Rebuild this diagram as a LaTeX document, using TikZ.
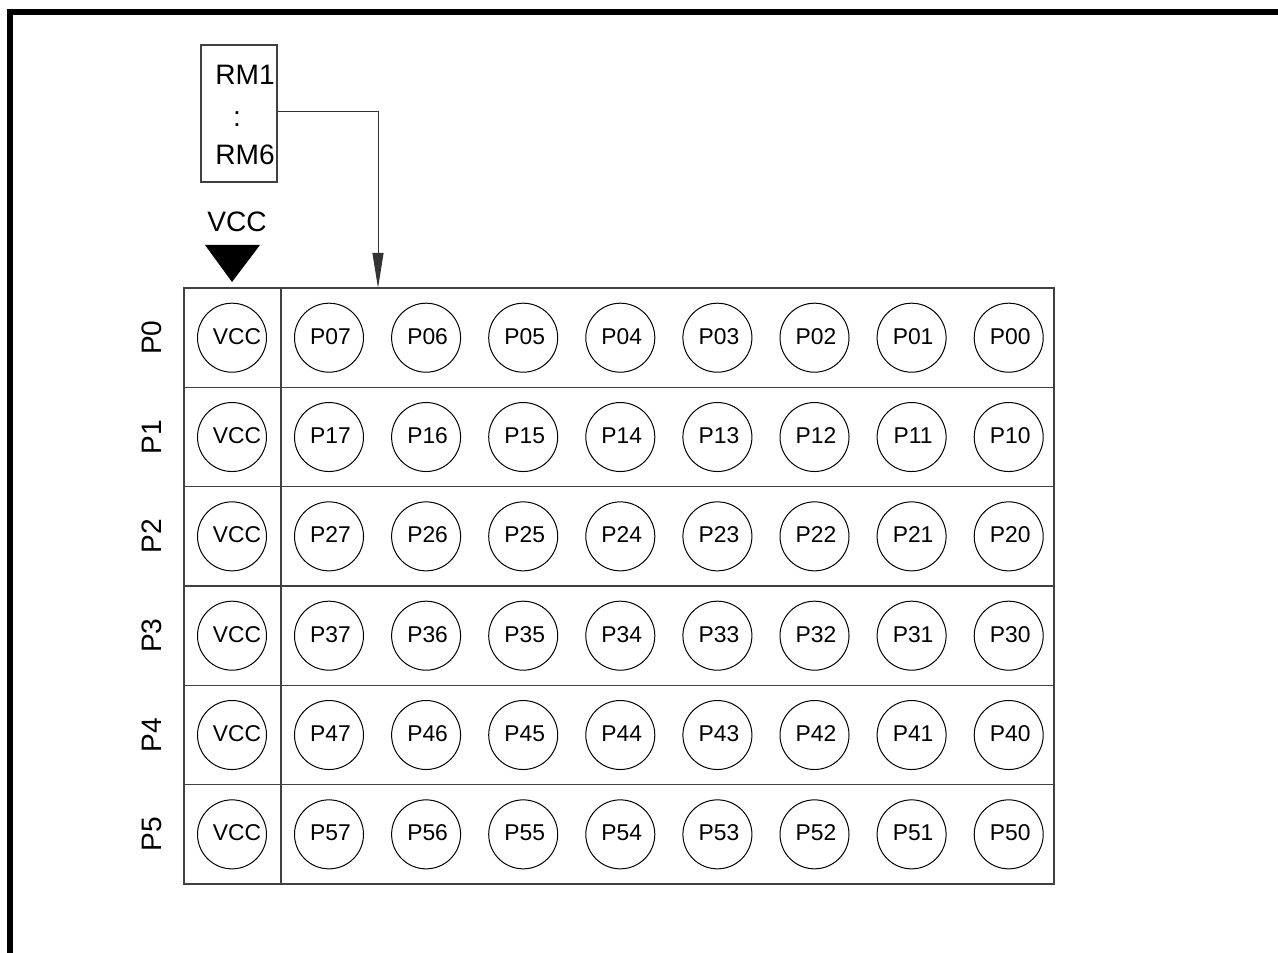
\documentclass[tikz,border=0pt]{standalone}
\usepackage{fontspec}
\setmainfont{Liberation Sans}
\usetikzlibrary{arrows.meta,positioning}

\begin{document}
\begin{tikzpicture}[
  x=0.2mm, y=-0.2mm,
  gridline/.style={draw=black!75, line width=0.3mm},
  pin/.style={draw, circle, minimum size=13.8mm, inner sep=0pt, line width=0.2mm, text height=0.72em, text depth=0pt, font=\fontsize{13}{15}\selectfont},
  rowlabel/.style={rotate=90, font=\fontsize{16}{18}\selectfont},
  label/.style={font=\fontsize{16}{18}\selectfont, inner sep=0pt},
  rmbox/.style={draw=black!75, line width=0.25mm, minimum width=15.2mm, minimum height=27.4mm, inner sep=0pt},
  arrow/.style={-{Triangle[length=7mm, width=2.2mm]}, line width=0.2mm, draw=black!80}
]
  \useasboundingbox (0,0) rectangle (1278,953);

  % frame
  \draw[line width=1.2mm] (10,953) -- (10,12) -- (1278,12);

  % resistor block
  \node[rmbox] (rm) at (239,113.5) {};
  \node[label] (rm1) at (245,75) {RM1};
  \node[label] (rmdots) at (237,119) {:};
  \node[label] (rm6) at (245,155) {RM6};

  % supply symbol
  \node[label] (vcc) at (237,222) {VCC};
  \fill (205,245) -- (260,245) -- (232,282) -- cycle;

  % matrix grid
  \draw[gridline] (184,288) rectangle (1054,884);
  \draw[gridline] (281,288) -- (281,884);
  \foreach \r in {1,...,5}
    \draw[gridline] (184,288+99.33*\r) -- (1054,288+99.33*\r);

  \foreach \r in {0,...,5}{
    \node[rowlabel] (row\r) at (152,288+99.33*\r+49.7) {P\r};
    \node[pin] (vcc\r) at (232,288+99.33*\r+49.7) {\hspace{2mm}VCC};
    \foreach \c [evaluate=\c as \b using int(7-\c)] in {0,...,7}
      \node[pin] (p\r\b) at (329+97.1*\c,288+99.33*\r+49.7) {\hspace{0.6mm}P\r\b};
  }

  \coordinate (gridin) at (378,288);
  \draw[arrow] (rm.east |- 0,112) -| (gridin);
\end{tikzpicture}
\end{document}
